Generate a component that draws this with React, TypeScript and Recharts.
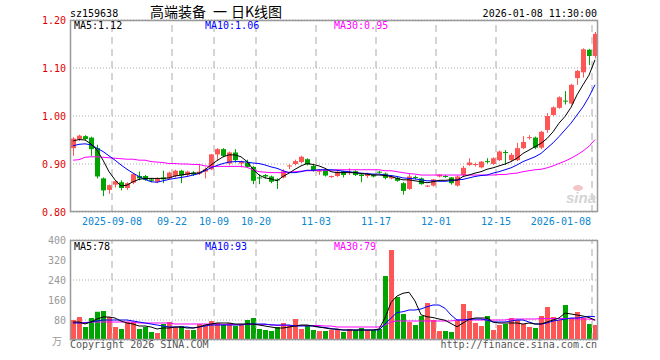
import React from 'react';
import { ComposedChart, Bar, Line, XAxis, YAxis, CartesianGrid, ReferenceLine } from 'recharts';

const RED = '#ff5555';
const GREEN = '#00a400';
const MONO = '"DejaVu Sans Mono", monospace';
const CJK = '"Noto Sans CJK SC", sans-serif';

const dates = [
  '2025-08-28', '2025-08-29',
  '2025-09-01', '2025-09-02', '2025-09-03', '2025-09-04', '2025-09-05', '2025-09-08', '2025-09-09', '2025-09-10',
  '2025-09-11', '2025-09-12', '2025-09-15', '2025-09-16', '2025-09-17', '2025-09-18', '2025-09-19', '2025-09-22',
  '2025-09-23', '2025-09-24', '2025-09-25', '2025-09-26', '2025-09-29', '2025-09-30',
  '2025-10-09', '2025-10-10', '2025-10-13', '2025-10-14', '2025-10-15', '2025-10-16', '2025-10-17', '2025-10-20',
  '2025-10-21', '2025-10-22', '2025-10-23', '2025-10-24', '2025-10-27', '2025-10-28', '2025-10-29', '2025-10-30',
  '2025-10-31',
  '2025-11-03', '2025-11-04', '2025-11-05', '2025-11-06', '2025-11-07', '2025-11-10', '2025-11-11', '2025-11-12',
  '2025-11-13', '2025-11-14', '2025-11-17', '2025-11-18', '2025-11-19', '2025-11-20', '2025-11-21', '2025-11-24',
  '2025-11-25', '2025-11-26', '2025-11-27', '2025-11-28',
  '2025-12-01', '2025-12-02', '2025-12-03', '2025-12-04', '2025-12-05', '2025-12-08', '2025-12-09', '2025-12-10',
  '2025-12-11', '2025-12-12', '2025-12-15', '2025-12-16', '2025-12-17', '2025-12-18', '2025-12-19', '2025-12-22',
  '2025-12-23', '2025-12-24', '2025-12-25', '2025-12-26', '2025-12-29', '2025-12-30', '2025-12-31',
  '2026-01-05', '2026-01-06', '2026-01-07', '2026-01-08',
];

const tickDates = ['2025-09-08', '2025-09-22', '2025-10-09', '2025-10-20', '2025-11-03', '2025-11-17', '2025-12-01', '2025-12-15', '2026-01-08'];
const tickLabels = ['2025-09-08', '09-22', '10-09', '10-20', '11-03', '11-17', '12-01', '12-15', '2026-01-08'];

const open = [
  0.933, 0.952, 0.958, 0.955, 0.933, 0.870, 0.846, 0.857, 0.862, 0.850,
  0.861, 0.875, 0.875, 0.868, 0.863, 0.872, 0.870, 0.875, 0.886, 0.877,
  0.882, 0.880, 0.884, 0.889, 0.920, 0.931, 0.901, 0.924, 0.901, 0.903,
  0.894, 0.872, 0.877, 0.874, 0.868, 0.872, 0.895, 0.900, 0.904, 0.910,
  0.896, 0.884, 0.887, 0.873, 0.875, 0.885, 0.882, 0.885, 0.878, 0.875,
  0.878, 0.884, 0.880, 0.870, 0.871, 0.860, 0.848, 0.873, 0.870, 0.853,
  0.855, 0.874, 0.875, 0.872, 0.855, 0.877, 0.898, 0.898, 0.893, 0.906,
  0.900, 0.908, 0.925, 0.908, 0.908, 0.933, 0.954, 0.955, 0.934, 0.971,
  1.002, 1.017, 1.032, 1.026, 1.079, 1.091, 1.138, 1.125,
];
const high = [
  0.956, 0.961, 0.960, 0.957, 0.940, 0.872, 0.857, 0.866, 0.866, 0.862,
  0.881, 0.884, 0.877, 0.871, 0.872, 0.886, 0.884, 0.888, 0.888, 0.886,
  0.885, 0.899, 0.893, 0.921, 0.933, 0.933, 0.926, 0.931, 0.907, 0.909,
  0.896, 0.878, 0.879, 0.876, 0.870, 0.889, 0.899, 0.909, 0.917, 0.912,
  0.899, 0.889, 0.889, 0.876, 0.886, 0.886, 0.891, 0.887, 0.880, 0.882,
  0.879, 0.886, 0.882, 0.876, 0.873, 0.862, 0.879, 0.876, 0.872, 0.856,
  0.869, 0.879, 0.877, 0.873, 0.876, 0.896, 0.912, 0.903, 0.906, 0.912,
  0.914, 0.928, 0.929, 0.923, 0.944, 0.958, 0.960, 0.957, 0.969, 1.006,
  1.020, 1.041, 1.052, 1.067, 1.096, 1.141, 1.140, 1.175,
];
const low = [
  0.917, 0.948, 0.950, 0.917, 0.870, 0.833, 0.838, 0.851, 0.845, 0.846,
  0.858, 0.866, 0.865, 0.862, 0.860, 0.860, 0.868, 0.872, 0.860, 0.874,
  0.875, 0.877, 0.870, 0.887, 0.907, 0.914, 0.897, 0.903, 0.893, 0.892,
  0.858, 0.858, 0.870, 0.860, 0.848, 0.870, 0.889, 0.897, 0.902, 0.897,
  0.884, 0.877, 0.874, 0.871, 0.873, 0.872, 0.877, 0.875, 0.862, 0.871,
  0.872, 0.880, 0.868, 0.868, 0.863, 0.836, 0.846, 0.868, 0.857, 0.852,
  0.853, 0.872, 0.871, 0.857, 0.853, 0.874, 0.896, 0.895, 0.891, 0.901,
  0.898, 0.906, 0.898, 0.905, 0.906, 0.931, 0.951, 0.931, 0.931, 0.965,
  1.000, 1.015, 1.024, 1.024, 1.065, 1.080, 1.106, 1.120,
];
const close = [
  0.953, 0.959, 0.952, 0.931, 0.874, 0.845, 0.856, 0.864, 0.850, 0.860,
  0.879, 0.870, 0.867, 0.865, 0.869, 0.868, 0.882, 0.886, 0.876, 0.884,
  0.878, 0.884, 0.889, 0.920, 0.931, 0.917, 0.924, 0.908, 0.905, 0.894,
  0.865, 0.870, 0.874, 0.863, 0.866, 0.885, 0.897, 0.906, 0.915, 0.899,
  0.886, 0.886, 0.876, 0.875, 0.884, 0.877, 0.884, 0.877, 0.875, 0.880,
  0.874, 0.882, 0.871, 0.874, 0.865, 0.844, 0.874, 0.871, 0.858, 0.855,
  0.868, 0.878, 0.873, 0.860, 0.874, 0.892, 0.903, 0.900, 0.905, 0.904,
  0.912, 0.926, 0.923, 0.919, 0.933, 0.946, 0.956, 0.934, 0.967, 1.000,
  1.018, 1.039, 1.030, 1.065, 1.094, 1.139, 1.125, 1.171,
];

// moving averages
const ma5 = [
  0.948, 0.951, 0.950, 0.942, 0.929, 0.908, 0.884, 0.867, 0.854, 0.856,
  0.863, 0.868, 0.870, 0.870, 0.870, 0.870, 0.871, 0.875, 0.877, 0.879,
  0.881, 0.881, 0.888, 0.898, 0.907, 0.915, 0.919, 0.919, 0.915, 0.905,
  0.889, 0.877, 0.871, 0.869, 0.865, 0.874, 0.881, 0.889, 0.896, 0.901,
  0.899, 0.896, 0.891, 0.884, 0.882, 0.882, 0.882, 0.882, 0.880, 0.879,
  0.877, 0.877, 0.876, 0.874, 0.870, 0.867, 0.867, 0.865, 0.863, 0.861,
  0.863, 0.866, 0.866, 0.867, 0.866, 0.874, 0.877, 0.881, 0.884, 0.889,
  0.892, 0.896, 0.900, 0.905, 0.912, 0.922, 0.929, 0.936, 0.943, 0.953,
  0.967, 0.985, 0.999, 1.018, 1.044, 1.065, 1.085, 1.117,
];
const ma10 = [
  0.938, 0.941, 0.942, 0.940, 0.933, 0.926, 0.917, 0.908, 0.898, 0.889,
  0.881, 0.874, 0.868, 0.863, 0.862, 0.865, 0.868, 0.870, 0.872, 0.874,
  0.877, 0.880, 0.886, 0.892, 0.897, 0.901, 0.904, 0.905, 0.905, 0.904,
  0.902, 0.901, 0.898, 0.894, 0.891, 0.886, 0.882, 0.882, 0.884, 0.887,
  0.887, 0.888, 0.888, 0.888, 0.887, 0.885, 0.884, 0.882, 0.881, 0.880,
  0.879, 0.879, 0.877, 0.876, 0.874, 0.871, 0.870, 0.869, 0.867, 0.865,
  0.865, 0.864, 0.864, 0.865, 0.867, 0.868, 0.871, 0.874, 0.876, 0.877,
  0.881, 0.884, 0.888, 0.892, 0.898, 0.905, 0.910, 0.915, 0.922, 0.933,
  0.944, 0.957, 0.971, 0.985, 1.002, 1.019, 1.040, 1.065,
];
const ma30 = [
  0.908, 0.909, 0.914, 0.915, 0.915, 0.914, 0.913, 0.912, 0.911, 0.910,
  0.910, 0.908, 0.908, 0.905, 0.904, 0.903, 0.901, 0.901, 0.900, 0.900,
  0.899, 0.899, 0.896, 0.895, 0.895, 0.895, 0.895, 0.895, 0.895, 0.893,
  0.888, 0.884, 0.883, 0.882, 0.882, 0.882, 0.883, 0.884, 0.885, 0.886,
  0.886, 0.887, 0.887, 0.887, 0.888, 0.888, 0.888, 0.888, 0.888, 0.888,
  0.888, 0.888, 0.886, 0.886, 0.884, 0.882, 0.880, 0.879, 0.877, 0.877,
  0.877, 0.877, 0.877, 0.877, 0.877, 0.877, 0.877, 0.877, 0.877, 0.877,
  0.877, 0.878, 0.878, 0.880, 0.881, 0.884, 0.886, 0.888, 0.889, 0.892,
  0.896, 0.901, 0.906, 0.912, 0.919, 0.927, 0.937, 0.951,
];

// volume in 万
const volume = [
  80, 92, 52, 88, 113, 116, 92, 52, 44, 72,
  72, 44, 52, 32, 28, 64, 72, 52, 56, 40,
  40, 64, 60, 76, 68, 60, 68, 56, 60, 80,
  88, 44, 40, 36, 52, 68, 56, 84, 44, 56,
  40, 36, 36, 40, 44, 32, 44, 40, 48, 40,
  40, 44, 256, 360, 172, 104, 72, 60, 96, 148,
  80, 36, 36, 32, 80, 144, 116, 68, 56, 96,
  40, 60, 64, 88, 80, 64, 52, 48, 96, 132,
  92, 80, 140, 88, 112, 88, 64, 60,
];
const volMa5 = [
  72, 72, 64, 72, 84, 92, 92, 88, 76, 68,
  64, 56, 56, 52, 44, 48, 48, 52, 52, 48,
  48, 52, 60, 64, 68, 68, 68, 64, 64, 64,
  64, 60, 56, 52, 48, 48, 52, 56, 60, 60,
  56, 52, 48, 44, 44, 40, 40, 40, 40, 40,
  40, 44, 88, 150, 176, 187, 191, 156, 101, 93,
  90, 84, 79, 66, 53, 68, 82, 88, 88, 88,
  72, 68, 68, 68, 68, 64, 68, 64, 64, 72,
  80, 88, 108, 104, 100, 96, 90, 80,
];
const volMa10 = [
  68, 68, 68, 72, 76, 80, 80, 80, 80, 80,
  76, 72, 68, 64, 60, 56, 52, 52, 52, 52,
  48, 52, 56, 60, 60, 60, 60, 60, 60, 64,
  64, 64, 64, 60, 60, 60, 60, 56, 56, 56,
  56, 52, 50, 46, 42, 40, 40, 40, 40, 40,
  40, 40, 64, 87, 110, 113, 120, 120, 124, 133,
  140, 140, 127, 100, 80, 80, 83, 84, 84, 80,
  72, 72, 72, 76, 80, 80, 72, 64, 64, 68,
  76, 80, 84, 88, 88, 91, 95, 93,
];
const volMa30 = [
  70, 70, 70, 72, 72, 72, 72, 72, 72, 72,
  72, 68, 68, 68, 68, 68, 68, 64, 64, 64,
  64, 64, 64, 64, 64, 62, 62, 62, 62, 62,
  62, 62, 62, 62, 58, 58, 58, 58, 58, 58,
  58, 58, 56, 56, 52, 52, 52, 52, 52, 52,
  52, 52, 60, 72, 76, 76, 76, 76, 76, 76,
  76, 76, 76, 76, 80, 80, 80, 80, 80, 80,
  80, 80, 80, 84, 84, 84, 84, 84, 86, 86,
  86, 86, 86, 86, 84, 84, 84, 79,
];

const data = dates.map((date, i) => ({
  date,
  open: open[i],
  high: high[i],
  low: low[i],
  close: close[i],
  range: [low[i], high[i]],
  up: close[i] >= open[i],
  ma5: ma5[i],
  ma10: ma10[i],
  ma30: ma30[i],
  vol: volume[i],
  vma5: volMa5[i],
  vma10: volMa10[i],
  vma30: volMa30[i],
}));

const Candle = (props: any) => {
  const { x, y, width, height, payload } = props;
  const color = payload.up ? RED : GREEN;
  const span = payload.high - payload.low;
  const toY = (v: number) => (span > 0 ? y + ((payload.high - v) / span) * height : y);
  const left = Math.floor(x);
  const mid = left + Math.floor(width / 2) + 0.5;
  const top = toY(Math.max(payload.open, payload.close));
  const bottom = toY(Math.min(payload.open, payload.close));
  return (
    <g>
      <line x1={mid} x2={mid} y1={y} y2={y + height} stroke={color} strokeWidth={1} />
      <rect x={left} y={top} width={width} height={Math.max(1, bottom - top)} fill={color} />
    </g>
  );
};

const VolBar = (props: any) => {
  const { x, y, width, height, payload } = props;
  if (!height) return null;
  return <rect x={Math.floor(x)} y={y} width={width} height={height} fill={payload.up ? RED : GREEN} />;
};

const DateTick = (props: any) => {
  const { x, y, payload } = props;
  const idx = tickDates.indexOf(payload.value);
  const last = idx === tickDates.length - 1;
  return (
    <text
      x={last ? x - 4 : x - 3}
      y={y}
      dy="0.71em"
      textAnchor={last ? 'end' : 'middle'}
      fontSize={10}
      fontFamily={MONO}
      fill="#0b86d1"
    >
      {idx >= 0 ? tickLabels[idx] : payload.value}
    </text>
  );
};

const vLines = tickDates.map((d) => (
  <ReferenceLine key={d} x={d} position="start" stroke="#aaa" strokeDasharray="7 5" />
));

const App = () => {
  return (
    <div style={{ position: 'absolute', left: 0, top: 0, width: 660, height: 360, background: '#fff', overflow: 'hidden' }}>
      <div style={{ position: 'absolute', left: 0, top: 0 }}>
        <ComposedChart width={660} height={230} data={data} margin={{ top: 20, right: 62, bottom: 0, left: 0 }}>
          <CartesianGrid vertical={false} stroke="#aaa" strokeDasharray="1 2" />
          <XAxis dataKey="date" ticks={tickDates} interval={0} tick={<DateTick />} tickSize={0} tickMargin={6} axisLine={false} height={18} />
          <YAxis
            domain={[0.8, 1.2]}
            ticks={[0.8, 0.9, 1.0, 1.1, 1.2]}
            tickFormatter={(v: number) => v.toFixed(2)}
            width={70}
            tickSize={0}
            tickMargin={4}
            axisLine={false}
            tick={{ fontSize: 10, fontFamily: MONO, fill: '#e00000' }}
          />
          {vLines}
          <Bar dataKey="range" barSize={5} shape={Candle} isAnimationActive={false} />
          <Line dataKey="ma30" stroke="#ff00ff" strokeWidth={1} dot={false} activeDot={false} isAnimationActive={false} />
          <Line dataKey="ma10" stroke="#0000ff" strokeWidth={1} dot={false} activeDot={false} isAnimationActive={false} />
          <Line dataKey="ma5" stroke="#000" strokeWidth={1} dot={false} activeDot={false} isAnimationActive={false} />
        </ComposedChart>
      </div>
      <div style={{ position: 'absolute', left: 0, top: 230 }}>
        <ComposedChart width={660} height={111} data={data} margin={{ top: 10, right: 62, bottom: 1, left: 0 }}>
          <CartesianGrid vertical={false} stroke="#aaa" strokeDasharray="1 2" />
          <XAxis dataKey="date" hide />
          <YAxis
            domain={[0, 400]}
            ticks={[80, 160, 240, 320, 400]}
            width={70}
            tickSize={0}
            tickMargin={4}
            axisLine={false}
            tick={{ fontSize: 10, fontFamily: MONO, fill: '#999' }}
          />
          {vLines}
          <Bar dataKey="vol" barSize={5} shape={VolBar} isAnimationActive={false} />
          <Line dataKey="vma30" stroke="#ff00ff" strokeWidth={1} dot={false} activeDot={false} isAnimationActive={false} />
          <Line dataKey="vma10" stroke="#0000ff" strokeWidth={1} dot={false} activeDot={false} isAnimationActive={false} />
          <Line dataKey="vma5" stroke="#000" strokeWidth={1} dot={false} activeDot={false} isAnimationActive={false} />
        </ComposedChart>
      </div>
      <svg width={660} height={360} style={{ position: 'absolute', left: 0, top: 0, pointerEvents: 'none' }}>
        <rect x={70.5} y={20.5} width={527} height={191} fill="none" stroke="#999" strokeWidth={1.5} />
        <rect x={70.5} y={240.5} width={527} height={99} fill="none" stroke="#999" strokeWidth={1.5} />
        <g fontFamily={MONO} fontSize={10}>
          <text x={70} y={17} fill="#000">sz159638</text>
          <text x={597} y={17} fill="#000" textAnchor="end">2026-01-08 11:30:00</text>
          <text x={74} y={29} fill="#000">MA5:1.12</text>
          <text x={205} y={29} fill="#0000ff">MA10:1.06</text>
          <text x={334} y={29} fill="#ff00ff">MA30:0.95</text>
          <text x={74} y={250} fill="#000">MA5:78</text>
          <text x={205} y={250} fill="#0000ff">MA10:93</text>
          <text x={334} y={250} fill="#ff00ff">MA30:79</text>
          <text x={70} y={348} fill="#555">Copyright 2026 SINA.COM</text>
          <text x={597} y={348} fill="#555" textAnchor="end">http://finance.sina.com.cn</text>
        </g>
        <g fontFamily={CJK} fontSize={14} fill="#000">
          <text x={150} y={17}>高端装备</text>
          <text x={213} y={17}>一</text>
          <text x={231} y={17}>日K线图</text>
        </g>
        <text x={52} y={345} fontFamily={CJK} fontSize={10} fill="#999">万</text>
        <ellipse cx={578} cy={188} rx={5} ry={3} fill="#f2c6c6" />
        <text x={566} y={203} fontFamily="Arial, sans-serif" fontStyle="italic" fontWeight="bold" fontSize={15} fill="#d4d4d4">sina</text>
      </svg>
    </div>
  );
};

export default App;
